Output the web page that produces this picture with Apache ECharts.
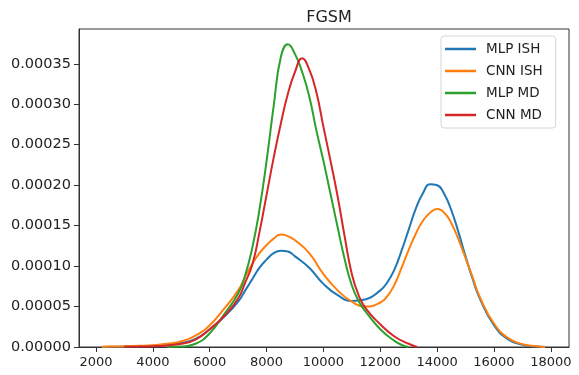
<!DOCTYPE html>
<html>
<head>
<meta charset="utf-8">
<script src="https://cdn.jsdelivr.net/npm/echarts@6/dist/echarts.min.js"></script>
<style>
  html, body { margin: 0; padding: 0; background: #fff; }
  #chart { width: 579px; height: 375px; }
</style>
</head>
<body>
<div id="chart"></div>
<script>
// Kernel density estimates of four models under the FGSM attack.
const titleText = 'FGSM';
const seriesNames = ['MLP ISH', 'CNN ISH', 'MLP MD', 'CNN MD'];
const seriesColors = ['#1f77b4', '#ff7f0e', '#2ca02c', '#d62728'];

// Density values are given in units of 1e-5.
const ishX = [2200, 2500, 3000, 3500, 4000, 4500, 5000, 5500, 6000, 6500, 7000, 7250, 7500, 7750, 8000, 8250, 8500, 8750, 9000, 9500, 10000, 10500, 11000, 11500, 12000, 12250, 12500, 12750, 13000, 13250, 13500, 13750, 14000, 14250, 14500, 14750, 15000, 15250, 15500, 16000, 16500, 17000, 17500, 17800];
const mlpIshY = [0.01, 0.03, 0.06, 0.1, 0.15, 0.28, 0.5, 1.0, 2.2, 3.7, 5.6, 7.0, 8.4, 9.8, 10.8, 11.6, 11.9, 11.8, 11.2, 9.8, 7.8, 6.4, 5.7, 5.9, 7.0, 8.0, 9.6, 11.9, 14.5, 17.1, 19.0, 20.1, 20.0, 18.9, 16.9, 14.2, 11.2, 8.4, 6.0, 2.7, 0.95, 0.27, 0.05, 0.0];
const cnnIshY = [0.02, 0.05, 0.1, 0.15, 0.22, 0.4, 0.7, 1.4, 2.7, 4.7, 7.0, 8.7, 10.3, 11.6, 12.6, 13.4, 13.9, 13.7, 13.2, 11.6, 9.0, 7.0, 5.6, 5.0, 5.5, 6.3, 7.7, 9.8, 12.0, 14.0, 15.6, 16.6, 17.05, 16.6, 15.3, 13.3, 11.0, 8.6, 6.2, 2.9, 1.1, 0.35, 0.08, 0.0];

const mlpMdX = [4500, 5000, 5500, 6000, 6500, 7000, 7250, 7500, 7750, 8000, 8250, 8500, 8750, 9000, 9250, 9500, 9750, 10000, 10250, 10500, 10750, 11000, 11250, 11500, 12000, 12500, 12800, 13000];
const mlpMdY = [0.0, 0.05, 0.4, 1.7, 4.0, 6.6, 8.9, 12.3, 17.0, 23.0, 29.8, 35.8, 37.4, 36.2, 34.0, 31.0, 26.8, 23.0, 18.9, 14.8, 10.8, 7.6, 5.6, 4.3, 2.2, 0.75, 0.2, 0.0];

const cnnMdX = [3000, 3500, 4000, 4500, 5000, 5500, 6000, 6500, 7000, 7250, 7500, 7750, 8000, 8250, 8500, 8750, 9000, 9250, 9500, 9750, 10000, 10250, 10500, 10750, 11000, 11250, 11500, 12000, 12500, 13000, 13300];
const cnnMdY = [0.03, 0.06, 0.1, 0.2, 0.4, 0.9, 2.2, 3.8, 6.0, 8.0, 10.2, 14.2, 18.8, 23.4, 27.6, 31.3, 34.0, 35.7, 34.3, 31.5, 27.2, 23.0, 18.6, 13.6, 9.0, 6.3, 4.7, 2.8, 1.3, 0.4, 0.0];

const xTicks = [2000, 4000, 6000, 8000, 10000, 12000, 14000, 16000, 18000];
const yTicks = [0, 0.00005, 0.0001, 0.00015, 0.0002, 0.00025, 0.0003, 0.00035];

const xRange = [1400, 18640];
const yRange = [0, 0.000393];

function pairs(xs, ys) {
  return xs.map((x, i) => [x, ys[i] * 1e-5]);
}

const seriesData = [
  pairs(ishX, mlpIshY),
  pairs(ishX, cnnIshY),
  pairs(mlpMdX, mlpMdY),
  pairs(cnnMdX, cnnMdY)
];

const font = 'DejaVu Sans';
const chart = echarts.init(document.getElementById('chart'), null, { renderer: 'canvas' });

chart.setOption({
  animation: false,
  backgroundColor: '#ffffff',
  title: {
    text: titleText,
    left: 324,
    textAlign: 'center',
    top: 5,
    textStyle: { fontFamily: font, fontSize: 16, fontWeight: 'normal', color: '#222' }
  },
  legend: {
    data: seriesNames,
    orient: 'vertical',
    left: 441,
    top: 36,
    padding: [5, 13, 5, 4],
    itemGap: 6,
    itemWidth: 31,
    itemHeight: 2.5,
    icon: 'rect',
    borderColor: '#d6d6d6',
    borderWidth: 1,
    borderRadius: 3,
    backgroundColor: 'rgba(255,255,255,0.8)',
    textStyle: { fontFamily: font, fontSize: 13.5, color: '#222', padding: [0, 0, 0, 5], lineHeight: 16 }
  },
  grid: {
    left: 79,
    right: 10,
    top: 29,
    bottom: 28,
    show: true,
    borderColor: '#333',
    borderWidth: 1,
    containLabel: false
  },
  xAxis: {
    type: 'value',
    min: xRange[0],
    max: xRange[1],
    splitLine: { show: false },
    axisLine: { show: true, onZero: false, lineStyle: { color: '#333', width: 1 } },
    axisTick: { show: true, length: 5, customValues: xTicks, lineStyle: { color: '#333' } },
    axisLabel: {
      customValues: xTicks,
      margin: 9,
      fontFamily: font,
      fontSize: 13,
      color: '#222',
      formatter: v => String(Math.round(v))
    }
  },
  yAxis: {
    type: 'value',
    min: yRange[0],
    max: yRange[1],
    splitLine: { show: false },
    axisLine: { show: true, lineStyle: { color: '#333', width: 1 } },
    axisTick: { show: true, length: 5, customValues: yTicks, lineStyle: { color: '#333' } },
    axisLabel: {
      customValues: yTicks,
      margin: 8,
      fontFamily: font,
      fontSize: 14.5,
      color: '#222',
      formatter: v => v.toFixed(5)
    }
  },
  series: seriesNames.map((name, i) => ({
    name: name,
    type: 'line',
    data: seriesData[i],
    smooth: 0.5,
    showSymbol: false,
    symbol: 'none',
    color: seriesColors[i],
    lineStyle: { width: 2, color: seriesColors[i] },
    z: 2 + i
  }))
});
</script>
</body>
</html>
